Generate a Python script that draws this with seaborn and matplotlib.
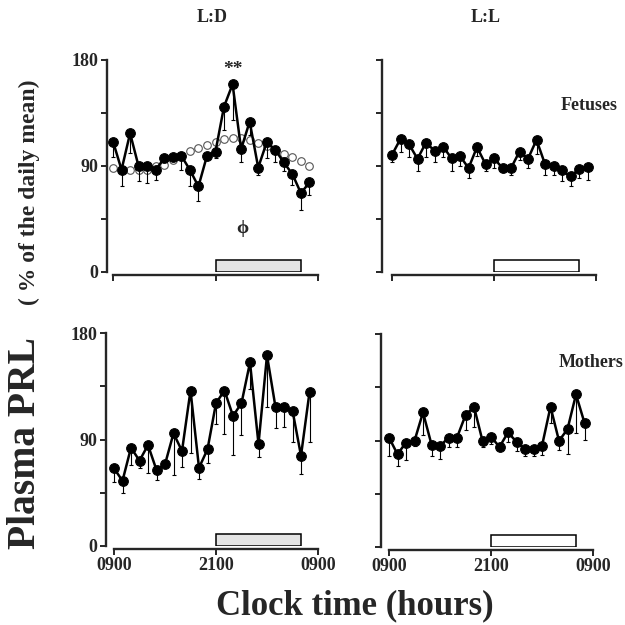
import matplotlib
matplotlib.use('Agg')
import matplotlib.pyplot as plt
from matplotlib.patches import Rectangle
import numpy as np
import pandas as pd
import seaborn as sns

# hours after 0900, one sample per hour
hours = np.arange(24)

# L:D fetuses (mean, lower SEM) and fitted cosinor (open circles)
ld_fet = [110.8, 86.8, 117.8, 89.6, 89.6, 86.8, 96.6, 97.5, 98.6, 86.8, 72.6, 98.6,
          102.3, 140.5, 159.4, 104.3, 127.7, 88.7, 110.2, 103.7, 93.0, 83.1, 67.0, 76.0]
ld_fet_err = [13, 14, 17, 12.7, 14, 8.5, 2, 2, 12, 13.5, 12, 2,
              5.6, 20, 30, 10.5, 11, 6, 13.5, 10.5, 7.6, 9, 14.7, 10.5]
ld_fet_fit = [88.7, 86.8, 86.2, 86.2, 86.8, 89.6, 91.0, 94.7, 98.9, 102.9, 105.1, 108.0,
              110.8, 112.8, 113.6, 113.6, 112.2, 109.9, 107.1, 103.7, 100.0, 97.5, 94.4, 90.4]

# L:L fetuses
ll_fet = [99.5, 113.0, 108.5, 96.1, 109.9, 102.9, 106.5, 96.6, 98.6, 88.2, 106.0, 91.6,
          96.6, 88.2, 88.2, 102.3, 96.1, 112.2, 91.6, 90.2, 86.2, 81.1, 87.3, 89.0]
ll_fet_err = [5.7, 10.7, 10.5, 10.7, 11.9, 9.9, 9, 10.5, 9, 8.5, 7.3, 6.2,
              7.9, 3.7, 5.6, 7, 7.9, 11.9, 9, 7.6, 9.3, 8.5, 7.6, 10.7]

# L:D mothers
ld_mot = [65.6, 55.1, 83.1, 72.1, 85.3, 64.2, 69.0, 95.2, 80.3, 131.4, 66.1, 81.7,
          120.7, 131.4, 109.9, 120.7, 155.1, 86.2, 161.1, 117.3, 117.3, 114.5, 76.3, 130.0]
ld_mot_err = [11.3, 10.2, 14.7, 6.5, 23.5, 8.5, 2, 35.3, 13.3, 53.1, 9.9, 11.3,
              17.5, 36.7, 33, 26.9, 22.6, 11.3, 43.8, 17.8, 16.4, 26.9, 15.5, 41.8]

# L:L mothers
ll_mot = [92.5, 78.4, 88.3, 89.7, 113.7, 86.6, 85.2, 92.5, 92.5, 111.4, 118.5, 89.7,
          93.1, 84.6, 96.8, 88.9, 82.7, 82.7, 85.5, 118.5, 89.7, 99.6, 128.9, 104.9]
ll_mot_err = [15.8, 10.2, 14.4, 4.2, 19, 9.6, 11, 7.9, 7.9, 12.7, 16.9, 5,
              6.2, 2.8, 7.9, 7.9, 5.6, 5.9, 7.9, 14.1, 7.9, 21.2, 32.4, 14.1]

time_ticks = [0, 12, 24]
time_labels = ['0900', '2100', '0900']
dark_start, dark_end = 12, 22

sns.set_style('ticks')
plt.rcParams['font.family'] = ['Liberation Serif', 'DejaVu Serif']
plt.rcParams['font.weight'] = 'bold'

W = 625.0
fig = plt.figure(figsize=(6.25, 6.25), dpi=100)


def make_axes(spine_x, zero_x, end_x, y0, y180, bottom_row, left_col):
    per_h = (end_x - zero_x) / 24.0
    x_lo = -(zero_x - spine_x) / per_h
    x_hi = 24.4
    width = (x_hi - x_lo) * per_h
    ax = fig.add_axes([spine_x / W, 1 - y0 / W, width / W, (y0 - y180) / W])
    ax.set_xlim(x_lo, x_hi)
    ax.set_ylim(0, 180)
    ax.spines['top'].set_visible(False)
    ax.spines['right'].set_visible(False)
    ax.spines['left'].set_bounds(0, 180)
    ax.spines['bottom'].set_bounds(0, 24)
    ax.spines['bottom'].set_position(('outward', 2))
    for s in ['left', 'bottom']:
        ax.spines[s].set_linewidth(1.7)
    ax.set_yticks([0, 45, 90, 135, 180])
    ax.set_xticks(time_ticks)
    ax.tick_params(width=1.4, length=4, pad=2, labelsize=13)
    if left_col:
        ax.set_yticklabels(['0', '', '90', '', '180'], fontweight='bold')
    else:
        ax.set_yticklabels([])
    if bottom_row:
        ax.set_xticklabels(time_labels, fontweight='bold')
    else:
        ax.set_xticklabels([])
    ax.set_xlabel('')
    ax.set_ylabel('')
    return ax


def draw_series(ax, vals, errs, filled_box):
    df = pd.DataFrame({'hour': hours, 'prl': vals})
    ax.errorbar(hours, vals, yerr=[errs, np.zeros(len(errs))], fmt='none',
                ecolor='black', elinewidth=0.8, capsize=1.5, capthick=0.8, zorder=2)
    sns.lineplot(data=df, x='hour', y='prl', ax=ax, color='black', linewidth=1.8,
                 marker='o', markersize=7, markeredgecolor='black',
                 markerfacecolor='black', zorder=3)
    ax.add_patch(Rectangle((dark_start, 0), dark_end - dark_start, 10,
                           facecolor='#e4e4e4' if filled_box else 'white',
                           edgecolor='black', linewidth=1.1, zorder=1))
    ax.set_xlabel('')
    ax.set_ylabel('')


ax1 = make_axes(107, 113, 318, 272, 60, False, True)
fit_df = pd.DataFrame({'hour': hours, 'fit': ld_fet_fit})
sns.scatterplot(data=fit_df, x='hour', y='fit', ax=ax1, marker='o', s=30,
                facecolor='white', edgecolor='#555555', linewidth=0.8, zorder=1.5)
draw_series(ax1, ld_fet, ld_fet_err, True)
ax1.text(14, 172, '**', ha='center', va='center', fontsize=14, fontweight='bold')
ax1.text(15.1, 37, 'ϕ', ha='center', va='center', fontsize=14)

ax2 = make_axes(382, 392, 596, 272, 60, False, False)
draw_series(ax2, ll_fet, ll_fet_err, False)

ax3 = make_axes(106, 114, 318, 546, 333, True, True)
draw_series(ax3, ld_mot, ld_mot_err, True)

ax4 = make_axes(381, 389, 593, 547, 334, True, False)
draw_series(ax4, ll_mot, ll_mot_err, False)

fig.text(212 / W, 1 - 18 / W, 'L:D', ha='center', va='center', fontsize=13, fontweight='bold')
fig.text(486 / W, 1 - 18 / W, 'L:L', ha='center', va='center', fontsize=13, fontweight='bold')
fig.text(618 / W, 1 - 105 / W, 'Fetuses', ha='right', va='center', fontsize=13, fontweight='bold')
fig.text(624 / W, 1 - 362 / W, 'Mothers', ha='right', va='center', fontsize=13, fontweight='bold')
fig.text(355 / W, 1 - 606 / W, 'Clock time (hours)', ha='center', va='center',
         fontsize=25, fontweight='bold')
fig.text(26 / W, 1 - 443 / W, 'Plasma PRL', ha='center', va='center', rotation=90,
         fontsize=28.5, fontweight='bold')
fig.text(29 / W, 1 - 192 / W, '( % of the daily mean)', ha='center', va='center',
         rotation=90, fontsize=17, fontweight='bold')

fig.savefig('out.png', dpi=100)
